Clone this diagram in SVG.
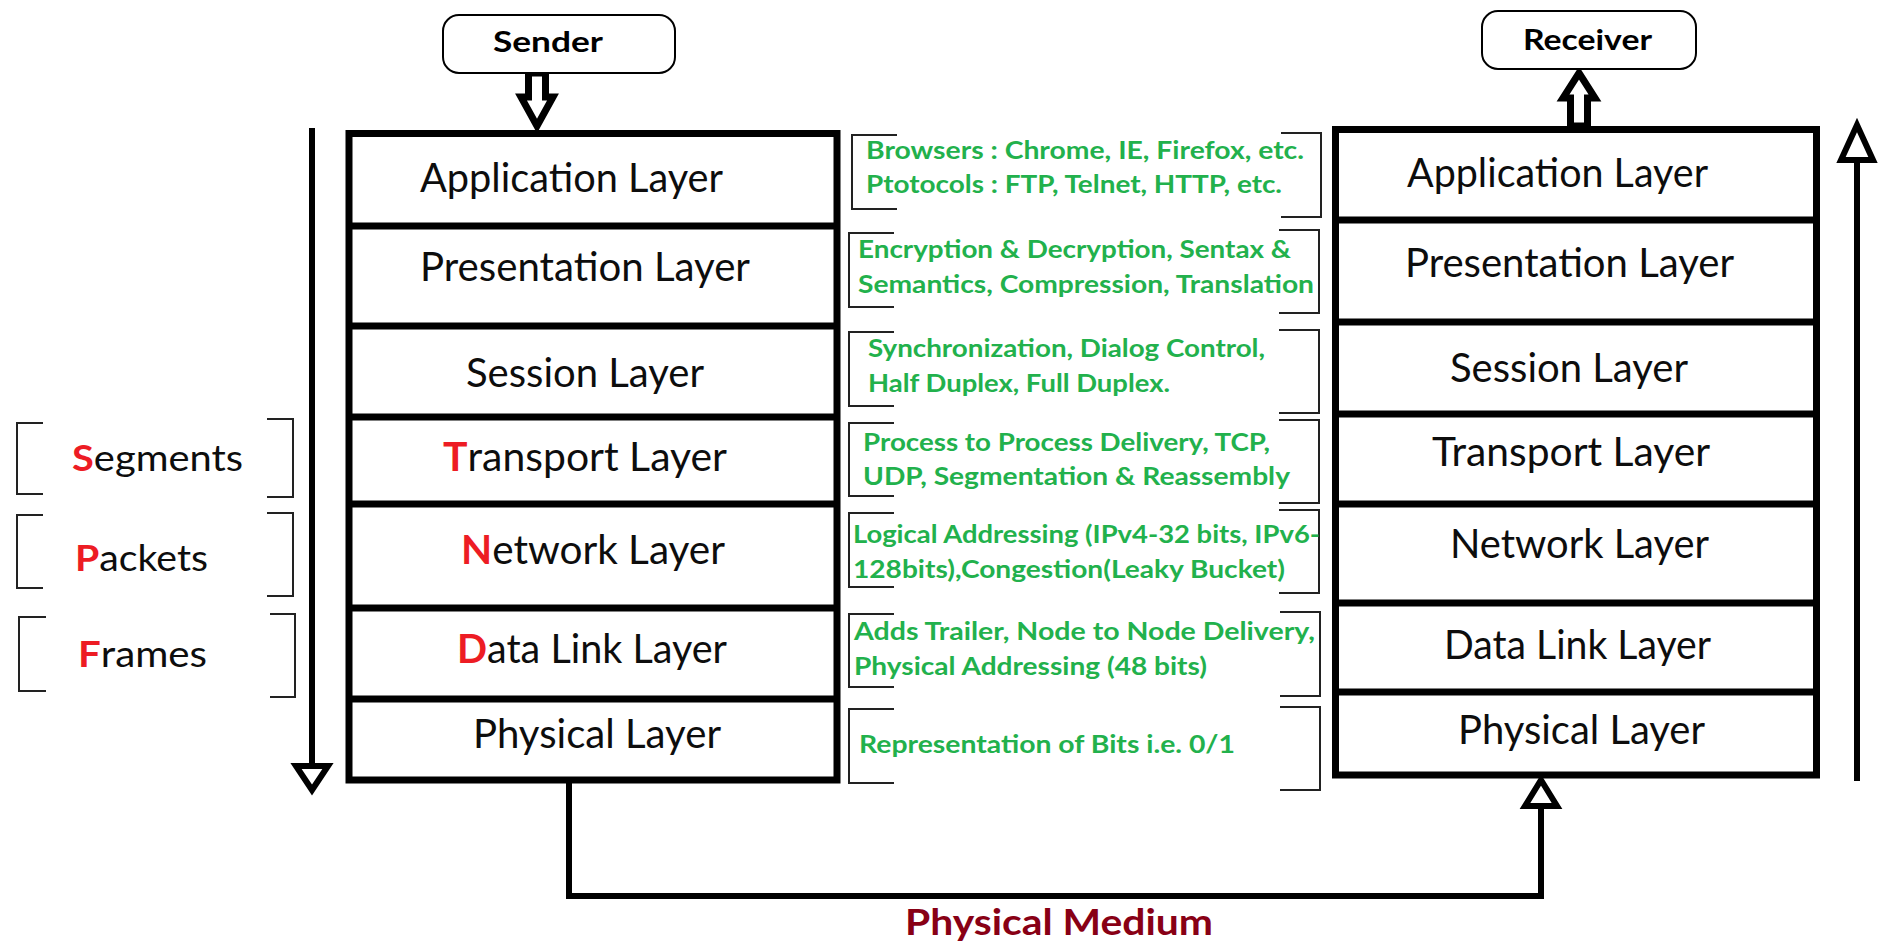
<svg xmlns="http://www.w3.org/2000/svg" width="1878" height="946" viewBox="0 0 1878 946">
  <style>
    .stack { fill: #fff; stroke: #000; stroke-width: 7; }
    .sep { stroke: #000; stroke-width: 7; }
    .layer { font-family: Lato, "Open Sans", sans-serif; font-size: 40px; fill: #0d0d0d; }
    .lead { fill: #ed1c24; font-weight: bold; }
    .pdu { font-family: Lato, "Open Sans", sans-serif; font-size: 37px; fill: #0d0d0d; }
    .desc { font-family: Lato, "Open Sans", sans-serif; font-size: 25px; font-weight: bold; fill: #22b14c; }
    .brk { fill: none; stroke: #222; stroke-width: 2; }
    .term { fill: #fff; stroke: #000; stroke-width: 2; }
    .termtxt { font-family: Lato, "Open Sans", sans-serif; font-size: 28px; font-weight: bold; fill: #000; }
    .wire { fill: none; stroke: #000; stroke-width: 6; }
    .hollow { fill: #fff; stroke: #000; stroke-width: 6; stroke-linejoin: miter; }
    .block { fill: #fff; stroke: #000; stroke-width: 7; stroke-linejoin: miter; }
    .medium { font-family: Lato, "Open Sans", sans-serif; font-size: 36px; font-weight: bold; fill: #880015; }
  </style>

  <rect width="1878" height="946" fill="#fff"/>

  <!-- connectors -->
  <g id="connectors">
    <!-- sender to application layer -->
    <polygon class="block" points="528.5,73 545.5,73 545.5,97 553,97 537,126 521,97 528.5,97"/>
    <!-- application layer to receiver -->
    <polygon class="block" points="1579,73 1595,98 1587.5,98 1587.5,126 1570.5,126 1570.5,98 1563,98"/>
    <!-- downward flow on the sending side -->
    <line class="wire" x1="312" y1="128" x2="312" y2="766"/>
    <polygon class="hollow" points="296,766 328,766 312,790"/>
    <!-- upward flow on the receiving side -->
    <line class="wire" x1="1857" y1="160" x2="1857" y2="781"/>
    <polygon class="hollow" points="1857,125 1873,160 1841,160"/>
    <!-- physical medium link -->
    <polyline class="wire" points="569,780 569,896 1541,896 1541,806"/>
    <polygon class="hollow" points="1541,780 1557,806 1525,806"/>
  </g>

  <!-- sender terminal -->
  <g id="sender">
    <rect class="term" x="443" y="15" width="232" height="58" rx="16"/>
    <text class="termtxt" x="493" y="52" textLength="110" lengthAdjust="spacingAndGlyphs">Sender</text>
  </g>

  <!-- receiver terminal -->
  <g id="receiver">
    <rect class="term" x="1482" y="11" width="214" height="58" rx="16"/>
    <text class="termtxt" x="1523" y="50" textLength="129" lengthAdjust="spacingAndGlyphs">Receiver</text>
  </g>

  <!-- sending stack -->
  <g id="sender-stack">
    <rect class="stack" x="349" y="133.5" width="488" height="646.5"/>
    <line class="sep" x1="349" y1="226" x2="837" y2="226"/>
    <line class="sep" x1="349" y1="326" x2="837" y2="326"/>
    <line class="sep" x1="349" y1="417" x2="837" y2="417"/>
    <line class="sep" x1="349" y1="504" x2="837" y2="504"/>
    <line class="sep" x1="349" y1="608" x2="837" y2="608"/>
    <line class="sep" x1="349" y1="699" x2="837" y2="699"/>
    <text class="layer" x="420" y="192" textLength="303" lengthAdjust="spacingAndGlyphs">Application Layer</text>
    <text class="layer" x="420" y="281" textLength="330" lengthAdjust="spacingAndGlyphs">Presentation Layer</text>
    <text class="layer" x="466" y="387" textLength="238" lengthAdjust="spacingAndGlyphs">Session Layer</text>
    <text class="layer" x="443" y="471" textLength="284" lengthAdjust="spacingAndGlyphs"><tspan class="lead">T</tspan>ransport Layer</text>
    <text class="layer" x="461" y="564" textLength="264" lengthAdjust="spacingAndGlyphs"><tspan class="lead">N</tspan>etwork Layer</text>
    <text class="layer" x="457" y="663" textLength="270" lengthAdjust="spacingAndGlyphs"><tspan class="lead">D</tspan>ata Link Layer</text>
    <text class="layer" x="473" y="748" textLength="248" lengthAdjust="spacingAndGlyphs">Physical Layer</text>
  </g>

  <!-- receiving stack -->
  <g id="receiver-stack">
    <rect class="stack" x="1335.5" y="129.5" width="481" height="645.5"/>
    <line class="sep" x1="1335.5" y1="220" x2="1816.5" y2="220"/>
    <line class="sep" x1="1335.5" y1="322" x2="1816.5" y2="322"/>
    <line class="sep" x1="1335.5" y1="414" x2="1816.5" y2="414"/>
    <line class="sep" x1="1335.5" y1="504" x2="1816.5" y2="504"/>
    <line class="sep" x1="1335.5" y1="603" x2="1816.5" y2="603"/>
    <line class="sep" x1="1335.5" y1="692" x2="1816.5" y2="692"/>
    <text class="layer" x="1407" y="187" textLength="301" lengthAdjust="spacingAndGlyphs">Application Layer</text>
    <text class="layer" x="1405" y="277" textLength="329" lengthAdjust="spacingAndGlyphs">Presentation Layer</text>
    <text class="layer" x="1450" y="382" textLength="238" lengthAdjust="spacingAndGlyphs">Session Layer</text>
    <text class="layer" x="1432" y="466" textLength="278" lengthAdjust="spacingAndGlyphs">Transport Layer</text>
    <text class="layer" x="1450" y="558" textLength="259" lengthAdjust="spacingAndGlyphs">Network Layer</text>
    <text class="layer" x="1444" y="659" textLength="267" lengthAdjust="spacingAndGlyphs">Data Link Layer</text>
    <text class="layer" x="1458" y="744" textLength="247" lengthAdjust="spacingAndGlyphs">Physical Layer</text>
  </g>

  <!-- data units -->
  <g id="segments">
    <path class="brk" d="M43,423 H17 V494 H43"/>
    <path class="brk" d="M267,419 H293 V497 H267"/>
    <text class="pdu" x="72" y="471" textLength="171" lengthAdjust="spacingAndGlyphs"><tspan class="lead">S</tspan>egments</text>
  </g>
  <g id="packets">
    <path class="brk" d="M43,515 H17 V588 H43"/>
    <path class="brk" d="M267,513 H293 V596 H267"/>
    <text class="pdu" x="75" y="571" textLength="133" lengthAdjust="spacingAndGlyphs"><tspan class="lead">P</tspan>ackets</text>
  </g>
  <g id="frames">
    <path class="brk" d="M46,617 H19 V691 H46"/>
    <path class="brk" d="M270,614 H295 V697 H270"/>
    <text class="pdu" x="78" y="667" textLength="129" lengthAdjust="spacingAndGlyphs"><tspan class="lead">F</tspan>rames</text>
  </g>

  <!-- layer functions -->
  <g id="desc-application">
    <path class="brk" d="M897,135 H852 V209 H897"/>
    <path class="brk" d="M1281,133 H1321 V217 H1281"/>
    <text class="desc" x="866" y="159" textLength="438" lengthAdjust="spacingAndGlyphs">Browsers : Chrome, IE, Firefox, etc.</text>
    <text class="desc" x="866" y="193" textLength="416" lengthAdjust="spacingAndGlyphs">Ptotocols : FTP, Telnet, HTTP, etc.</text>
  </g>
  <g id="desc-presentation">
    <path class="brk" d="M894,233 H849 V307 H894"/>
    <path class="brk" d="M1279,230 H1319 V313 H1279"/>
    <text class="desc" x="858" y="258" textLength="433" lengthAdjust="spacingAndGlyphs">Encryption &amp; Decryption, Sentax &amp;</text>
    <text class="desc" x="858" y="293" textLength="456" lengthAdjust="spacingAndGlyphs">Semantics, Compression, Translation</text>
  </g>
  <g id="desc-session">
    <path class="brk" d="M894,332 H849 V406 H894"/>
    <path class="brk" d="M1279,330 H1319 V413 H1279"/>
    <text class="desc" x="868" y="357" textLength="397" lengthAdjust="spacingAndGlyphs">Synchronization, Dialog Control,</text>
    <text class="desc" x="868" y="392" textLength="302" lengthAdjust="spacingAndGlyphs">Half Duplex, Full Duplex.</text>
  </g>
  <g id="desc-transport">
    <path class="brk" d="M894,423 H849 V496 H894"/>
    <path class="brk" d="M1279,420 H1319 V503 H1279"/>
    <text class="desc" x="863" y="451" textLength="407" lengthAdjust="spacingAndGlyphs">Process to Process Delivery, TCP,</text>
    <text class="desc" x="863" y="485" textLength="427" lengthAdjust="spacingAndGlyphs">UDP, Segmentation &amp; Reassembly</text>
  </g>
  <g id="desc-network">
    <path class="brk" d="M894,513 H849 V587 H894"/>
    <path class="brk" d="M1279,510 H1319 V593 H1279"/>
    <text class="desc" x="853" y="543" textLength="467" lengthAdjust="spacingAndGlyphs">Logical Addressing (IPv4-32 bits, IPv6-</text>
    <text class="desc" x="853" y="578" textLength="432" lengthAdjust="spacingAndGlyphs">128bits),Congestion(Leaky Bucket)</text>
  </g>
  <g id="desc-datalink">
    <path class="brk" d="M894,614 H849 V687 H894"/>
    <path class="brk" d="M1280,612 H1320 V696 H1280"/>
    <text class="desc" x="854" y="640" textLength="461" lengthAdjust="spacingAndGlyphs">Adds Trailer, Node to Node Delivery,</text>
    <text class="desc" x="854" y="675" textLength="353" lengthAdjust="spacingAndGlyphs">Physical Addressing (48 bits)</text>
  </g>
  <g id="desc-physical">
    <path class="brk" d="M894,709 H849 V783 H894"/>
    <path class="brk" d="M1280,707 H1320 V790 H1280"/>
    <text class="desc" x="859" y="753" textLength="376" lengthAdjust="spacingAndGlyphs">Representation of Bits i.e. 0/1</text>
  </g>

  <!-- medium label -->
  <g id="physical-medium">
    <text class="medium" x="905" y="935" textLength="308" lengthAdjust="spacingAndGlyphs">Physical Medium</text>
  </g>
</svg>
